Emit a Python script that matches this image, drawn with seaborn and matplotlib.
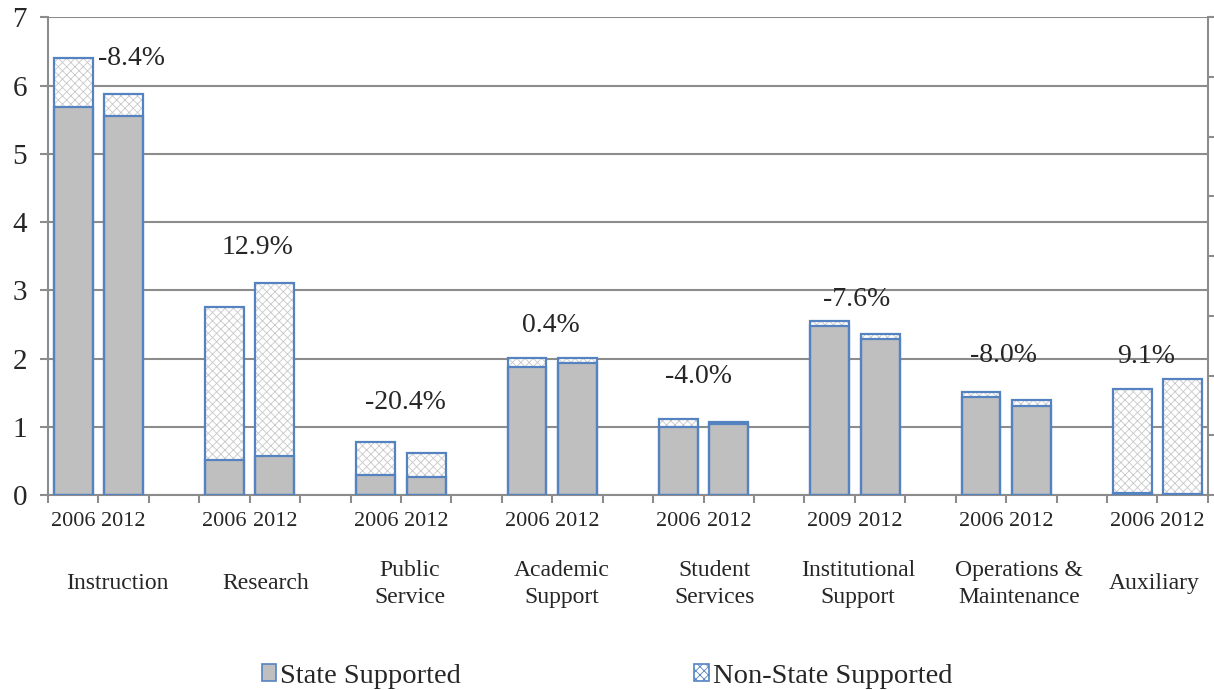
import numpy as np
import pandas as pd
import matplotlib.pyplot as plt
import matplotlib.transforms as mtransforms
from matplotlib.patches import Patch
import seaborn as sns

categories = ["Instruction", "Research", "Public\nService", "Academic\nSupport",
              "Student\nServices", "Institutional\nSupport", "Operations &\nMaintenance",
              "Auxiliary"]
years = [["2006", "2012"], ["2006", "2012"], ["2006", "2012"], ["2006", "2012"],
         ["2006", "2012"], ["2009", "2012"], ["2006", "2012"], ["2006", "2012"]]
state_first = [5.68, 0.51, 0.29, 1.88, 1.00, 2.47, 1.44, 0.03]
state_second = [5.56, 0.57, 0.26, 1.94, 1.04, 2.29, 1.31, 0.01]
total_first = [6.41, 2.76, 0.78, 2.01, 1.12, 2.55, 1.51, 1.56]
total_second = [5.87, 3.11, 0.62, 2.01, 1.07, 2.36, 1.39, 1.70]
pct_change = ["-8.4%", "12.9%", "-20.4%", "0.4%", "-4.0%", "-7.6%", "-8.0%", "9.1%"]

STATE_COLOR = "#BFBFBF"
EDGE_BLUE = "#5583C2"
GRID_GRAY = "#8C8C8C"
SERIF = ["Liberation Serif", "DejaVu Serif"]

rows = []
for g, cat in enumerate(categories):
    for j, (st, tot) in enumerate([(state_first[g], total_first[g]),
                                   (state_second[g], total_second[g])]):
        rows.append({"slot": 3 * g + j, "year": years[g][j], "state": st, "total": tot})
df = pd.DataFrame(rows)

sns.set_theme(style="white")
plt.rcParams["font.family"] = SERIF
plt.rcParams["hatch.linewidth"] = 0.6

fig = plt.figure(figsize=(12.14, 6.9), dpi=100)
ax = fig.add_axes([0.0395, 0.2826, 0.9555, 0.6924])

# non-state part: hatched full-height bars, then state bars on top, then blue outline
sns.barplot(data=df, x="slot", y="total", native_scale=True, width=0.77, errorbar=None,
            color="white", edgecolor="#C8C8C8", linewidth=0, hatch="xxxx",
            saturation=1, ax=ax, zorder=2)
sns.barplot(data=df, x="slot", y="state", native_scale=True, width=0.77, errorbar=None,
            color=STATE_COLOR, edgecolor=EDGE_BLUE, linewidth=1.6,
            saturation=1, ax=ax, zorder=3)
sns.barplot(data=df, x="slot", y="total", native_scale=True, width=0.77, errorbar=None,
            fill=False, edgecolor=EDGE_BLUE, linewidth=1.6, ax=ax, zorder=4)

ax.set_xlim(-0.5, 22.5)
ax.set_ylim(0, 7)
ax.set_xlabel("")
ax.set_ylabel("")
ax.set_yticks(range(8))
ax.set_yticklabels([str(i) for i in range(8)], fontsize=21)
ax.set_xticks(np.arange(-0.5, 23, 1))
ax.set_xticklabels([])
ax.tick_params(axis="y", direction="out", length=6, width=1.5, color=GRID_GRAY, pad=9, left=True)
ax.tick_params(axis="x", direction="out", length=6, width=1.5, color=GRID_GRAY, bottom=True)
ax.grid(axis="y", color=GRID_GRAY, linewidth=1.5, zorder=0)
ax.set_axisbelow(True)
for side in ["left", "bottom", "right"]:
    ax.spines[side].set_color(GRID_GRAY)
    ax.spines[side].set_linewidth(1.5)
ax.spines["top"].set_visible(False)

# secondary axis on the right, ticks only
ax2 = ax.twinx()
ax2.set_ylim(0, 8)
ax2.set_yticks(range(9))
ax2.set_yticklabels([])
ax2.tick_params(axis="y", direction="out", length=6, width=1.5, color=GRID_GRAY, right=True)
for side in ["left", "bottom", "top", "right"]:
    ax2.spines[side].set_visible(False)

# year labels under each bar, category labels under each pair
cat_dx = [0.37, 0.31, 0.17, 0.19, 0.21, 0.06, 0.25, -0.06]
trans = mtransforms.blended_transform_factory(ax.transData, ax.transAxes)
for g, cat in enumerate(categories):
    for j in range(2):
        ax.text(3 * g + j, -0.056, years[g][j], transform=trans, ha="center", va="center",
                fontsize=16)
    ax.text(3 * g + 0.5 + cat_dx[g], -0.186, cat, transform=trans, ha="center", va="center",
            fontsize=17, linespacing=1.35)

# change labels (placed like the hand-positioned Excel labels)
label_dx = [0.66, 0.16, 0.09, -0.02, -0.10, 0.04, -0.05, -0.22]
label_y = [6.40, 3.62, 1.35, 2.48, 1.73, 2.86, 2.05, 2.03]
for g, txt in enumerate(pct_change):
    ax.text(3 * g + 0.5 + label_dx[g], label_y[g], txt, ha="center", va="center",
            fontsize=20, zorder=5)

handles = [Patch(facecolor=STATE_COLOR, edgecolor=EDGE_BLUE, linewidth=1.2),
           Patch(facecolor="white", edgecolor=EDGE_BLUE, linewidth=1.2, hatch="xxxx")]
fig.legend(handles, ["State Supported", "Non-State Supported"], loc="center",
           bbox_to_anchor=(0.5, 0.02), ncol=2, frameon=False, fontsize=20.5,
           handlelength=0.5, handleheight=0.55, handletextpad=0.15, columnspacing=8.2)

fig.savefig("out.png", dpi=100)
